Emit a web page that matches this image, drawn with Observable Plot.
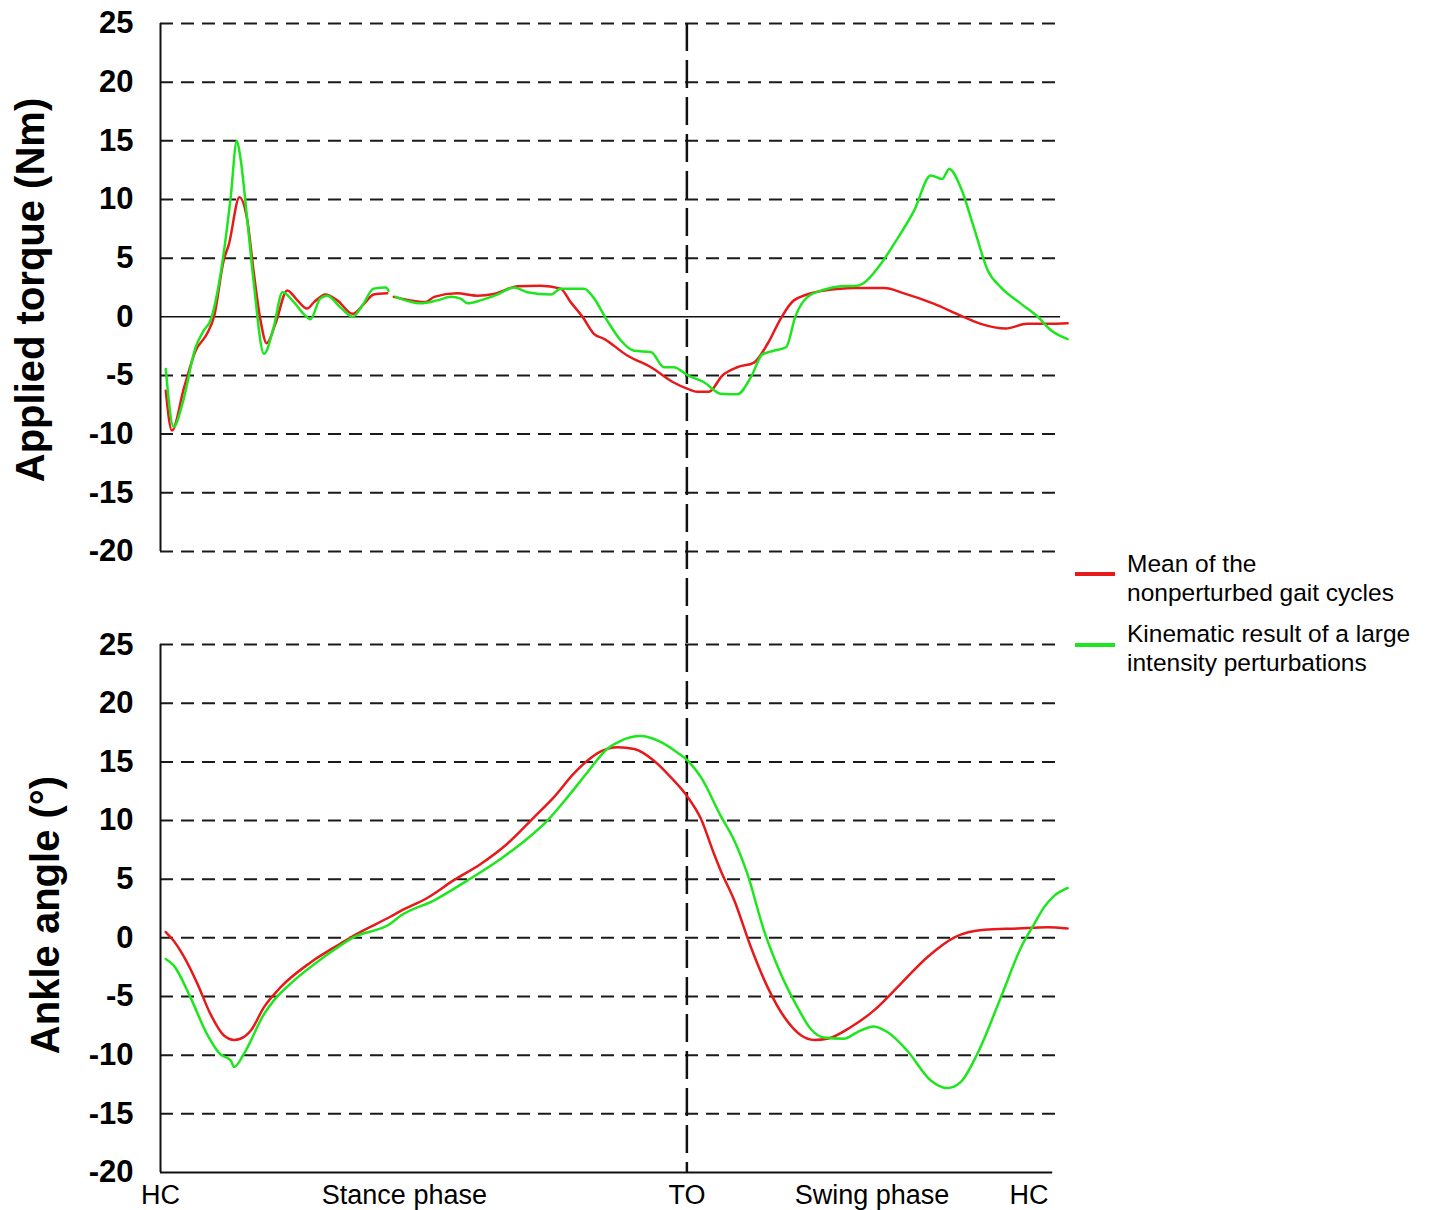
<!DOCTYPE html>
<html>
<head>
<meta charset="utf-8">
<script src="https://cdn.jsdelivr.net/npm/d3@7"></script>
<script src="https://cdn.jsdelivr.net/npm/@observablehq/plot@0.6"></script>
<style>
  body { margin: 0; background: #fff; }
  #chart { position: relative; width: 1429px; height: 1210px; font-family: "Liberation Sans", Arial, sans-serif; color: #000; }
  #chart svg { position: absolute; left: 0; top: 0; }
  g[aria-label="y-axis tick label"] { font-weight: bold; }
  .ytitle { position: absolute; font-size: 40px; font-weight: bold; white-space: nowrap; transform: translate(-50%, -50%) rotate(-90deg); line-height: 1; }
  .legend { position: absolute; left: 1075px; font-size: 24.5px; line-height: 29px; }
  .entry { position: absolute; left: 0; display: flex; align-items: flex-start; white-space: nowrap; }
  .swatch { width: 40px; height: 4px; margin-right: 12px; flex: none; }
</style>
</head>
<body>
<div id="chart"></div>
<script>
// Panels, series and axis labels
const panels = ["torque", "angle"];
const panelTitles = ["Applied torque (Nm)", "Ankle angle (°)"];
const seriesNames = ["Mean of the nonperturbed gait cycles", "Kinematic result of a large intensity perturbations"];
const legendLines = [["Mean of the", "nonperturbed gait cycles"], ["Kinematic result of a large", "intensity perturbations"]];
const seriesColors = ["#e8191b", "#1ee61e"];
const yTicks = [25, 20, 15, 10, 5, 0, -5, -10, -15, -20];
// Gait-cycle events along x (percent of the cycle)
const phaseTicks = [0, 27.8, 60, 81.1, 99];
const phaseLabels = ["HC", "Stance phase", "TO", "Swing phase", "HC"];
const toeOff = 60;

// Applied torque (Nm) vs % gait cycle; null marks a recording gap
const torqueMean = [
  [0.6, -6.3], [1.3, -9.7], [2.7, -6.0], [4.0, -2.9], [5.3, -1.45], [6.1, 0], [7.2, 4.8], [7.8, 6.2],
  [9.0, 10.2], [9.9, 8.2], [10.6, 3.95], [11.4, -0.3], [12.1, -2.25], [13.1, -0.6], [14.45, 2.25],
  [15.6, 1.4], [16.7, 0.7], [17.5, 1.25], [18.8, 1.9], [20.15, 1.4], [21.9, 0.25], [23.2, 1.1],
  [24.3, 1.9], [25.85, 2.0], [26.3, null], [26.6, 1.7], [28.9, 1.35], [30.2, 1.25], [31.2, 1.7],
  [33.8, 2.0], [36.1, 1.8], [38.0, 1.95], [40.7, 2.6], [43.3, 2.65], [45.6, 2.4], [46.75, 1.25],
  [48.1, 0], [49.4, -1.45], [50.6, -1.9], [53.2, -3.3], [55.9, -4.3], [58.5, -5.6], [60.1, -6.15],
  [61.2, -6.4], [62.5, -6.4], [64.05, -5.0], [65.75, -4.3], [67.65, -3.9], [69.2, -2.3], [70.7, -0.15],
  [72.2, 1.4], [75.3, 2.2], [77.5, 2.4], [79.05, 2.45], [82.5, 2.45], [84.75, 2.0], [88.2, 1.1],
  [91.2, 0.1], [93.5, -0.6], [96.35, -1.0], [98.8, -0.6], [101.1, -0.6], [103.4, -0.55]
];
const torquePerturbed = [
  [0.6, -4.45], [1.5, -9.4], [2.5, -7.4], [4.0, -2.6], [4.9, -1.2], [5.7, -0.3], [7.2, 5.4], [8.0, 10.2],
  [8.7, 15.0], [9.1, 13.6], [9.9, 8.2], [10.6, 3.1], [11.8, -3.15], [12.9, -0.9], [13.9, 2.1],
  [15.2, 1.25], [16.3, 0.25], [17.1, -0.2], [18.2, 1.55], [19.0, 1.8], [20.5, 0.8], [21.9, 0],
  [23.0, 0.95], [24.3, 2.4], [25.7, 2.5], [26.0, 2.2], [26.3, null], [26.8, 1.7], [29.65, 1.15],
  [31.55, 1.4], [33.1, 1.7], [34.2, 1.55], [35.0, 1.15], [36.5, 1.4], [38.4, 1.9], [40.3, 2.5],
  [41.8, 2.1], [44.5, 1.9], [45.6, 2.4], [48.3, 2.4], [49.3, 1.7], [50.9, -0.3], [52.45, -2.0],
  [54.0, -2.9], [55.9, -3.0], [57.4, -4.3], [58.5, -4.3], [60.1, -5.0], [62.0, -5.6], [63.85, -6.55],
  [65.75, -6.6], [67.3, -5.15], [68.6, -3.2], [69.9, -2.9], [71.3, -2.6], [72.4, 0.1], [73.7, 1.65],
  [75.6, 2.3], [77.5, 2.6], [79.4, 2.65], [82.1, 4.5], [83.6, 6.2], [85.9, 9.05], [87.8, 12.05],
  [89.1, 11.75], [89.9, 12.6], [91.2, 11.05], [92.7, 7.65], [94.3, 3.95], [95.8, 2.5], [98.1, 1.1],
  [100.0, 0], [101.5, -1.15], [103.4, -1.9]
];
// Ankle angle (degrees) vs % gait cycle
const angleMean = [
  [0.6, 0.5], [1.5, -0.25], [2.7, -1.65], [4.2, -3.9], [5.7, -6.5], [7.2, -8.3], [8.4, -8.7],
  [9.1, -8.6], [10.3, -7.9], [11.8, -5.9], [13.7, -4.2], [17.1, -2.1], [20.5, -0.5], [22.4, 0.35],
  [26.2, 1.8], [27.4, 2.3], [30.4, 3.4], [33.4, 4.9], [36.5, 6.3], [39.5, 8.0], [42.6, 10.3],
  [44.85, 12.0], [47.1, 14.0], [48.65, 15.1], [50.2, 15.9], [52.1, 16.25], [54.0, 16.1], [56.25, 15.1],
  [58.15, 13.7], [60.1, 12.0], [61.6, 10.15], [63.1, 7.15], [63.85, 5.75], [65.4, 3.2], [67.3, -0.8],
  [69.2, -4.2], [71.1, -6.75], [73.0, -8.3], [74.5, -8.7], [76.0, -8.6], [78.7, -7.6], [81.3, -6.2],
  [84.4, -3.9], [87.4, -1.65], [90.5, 0.05], [93.9, 0.7], [97.7, 0.8], [101.1, 0.9], [103.4, 0.8]
];
const anglePerturbed = [
  [0.6, -1.8], [1.5, -2.35], [3.4, -5.05], [5.3, -8.2], [6.8, -9.9], [8.0, -10.45], [8.4, -11.0],
  [9.5, -9.9], [11.8, -6.5], [12.9, -5.35], [15.2, -3.65], [18.6, -1.65], [22.0, 0.05], [26.2, 1.2],
  [27.4, 1.9], [31.2, 3.2], [35.0, 4.9], [38.8, 6.75], [41.8, 8.45], [44.1, 10.0], [46.4, 12.0],
  [48.65, 14.1], [50.9, 16.1], [52.45, 16.8], [54.7, 17.2], [57.0, 16.7], [58.9, 15.8], [60.1, 15.1],
  [61.6, 13.7], [63.85, 10.4], [65.4, 8.3], [66.9, 5.45], [68.8, 0.6], [70.7, -3.05], [72.6, -5.9],
  [74.1, -7.75], [75.6, -8.5], [77.9, -8.6], [79.4, -8.05], [81.3, -7.55], [82.9, -8.05], [85.1, -9.6],
  [87.8, -12.15], [89.7, -12.8], [91.2, -12.3], [93.1, -9.9], [95.8, -5.05], [98.1, -0.8], [99.6, 1.2],
  [100.7, 2.6], [101.9, 3.6], [103.4, 4.25]
];

// Flatten into one tidy table for faceting
const rows = [];
const addSeries = (panel, series, pts) => pts.forEach(([x, y]) => rows.push({panel, series, x, y}));
addSeries(panels[0], seriesNames[0], torqueMean);
addSeries(panels[0], seriesNames[1], torquePerturbed);
addSeries(panels[1], seriesNames[0], angleMean);
addSeries(panels[1], seriesNames[1], anglePerturbed);

// Dashed grid: zero is solid in the torque panel, -20 is the axis in the angle panel
const gridRows = [];
for (const y of yTicks) {
  if (y !== 0) gridRows.push({panel: panels[0], y});
  if (y !== -20) gridRows.push({panel: panels[1], y});
}
const gridEnd = 102.6;
const axisEnd = 101.7;

const chart = Plot.plot({
  width: 1429,
  height: 1210,
  marginLeft: 160,
  marginRight: 361,
  marginTop: 23,
  marginBottom: 38,
  style: {fontFamily: "'Liberation Sans', Arial, sans-serif", background: "transparent", color: "#000", overflow: "visible"},
  x: {domain: [0, 103.5], axis: null},
  y: {domain: [-20, 25], axis: null},
  fy: {domain: panels, axis: null, paddingInner: 0.15, paddingOuter: 0, round: false},
  color: {domain: seriesNames, range: seriesColors},
  marks: [
    Plot.ruleY(gridRows, {y: "y", fy: "panel", x1: 0, x2: gridEnd, stroke: "#1a1a1a", strokeWidth: 2, strokeDasharray: "13,8"}),
    Plot.ruleY([{panel: panels[0], y: 0}], {y: "y", fy: "panel", x1: 0, x2: gridEnd, stroke: "#111", strokeWidth: 1.5}),
    Plot.ruleY([{panel: panels[1], y: -20}], {y: "y", fy: "panel", x1: 0, x2: axisEnd, stroke: "#111", strokeWidth: 2}),
    Plot.ruleX([0], {y1: -20, y2: 25, stroke: "#111", strokeWidth: 2}),
    // Toe-off marker runs through both panels and the gap between them
    Plot.ruleX([{panel: panels[0], x: toeOff}], {x: "x", fy: "panel", y1: 25, y2: -20, insetBottom: -93, stroke: "#111", strokeWidth: 2.5, strokeDasharray: "28,9"}),
    Plot.ruleX([{panel: panels[1], x: toeOff}], {x: "x", fy: "panel", y1: 25, y2: -20, stroke: "#111", strokeWidth: 2.5, strokeDasharray: "28,9"}),
    Plot.line(rows, {x: "x", y: "y", z: "series", stroke: "series", fy: "panel", strokeWidth: 2.5, curve: "monotone-x"}),
    Plot.axisY({ticks: yTicks, tickFormat: (d) => String(d), tickSize: 0, tickPadding: 27, fontSize: 31, label: null}),
    Plot.axisX({ticks: phaseTicks, tickFormat: (d) => phaseLabels[phaseTicks.indexOf(d)], tickSize: 0, tickPadding: 12, fontSize: 27, label: null})
  ]
});

const root = document.getElementById("chart");
root.appendChild(chart);

// Rotated y-axis titles, one per panel
const titleCenters = [[30, 290], [45, 915]];
panelTitles.forEach((t, i) => {
  const el = document.createElement("div");
  el.className = "ytitle";
  el.textContent = t;
  el.style.left = titleCenters[i][0] + "px";
  el.style.top = titleCenters[i][1] + "px";
  root.appendChild(el);
});

// Legend to the right of the panels
const legend = document.createElement("div");
legend.className = "legend";
legend.style.top = "549px";
const entryTops = [0, 70];
seriesNames.forEach((name, i) => {
  const entry = document.createElement("div");
  entry.className = "entry";
  entry.style.top = entryTops[i] + "px";
  const sw = document.createElement("div");
  sw.className = "swatch";
  sw.style.background = seriesColors[i];
  sw.style.marginTop = (i === 0 ? 23 : 24) + "px";
  const label = document.createElement("div");
  label.innerHTML = legendLines[i].join("<br>");
  entry.appendChild(sw);
  entry.appendChild(label);
  legend.appendChild(entry);
});
root.appendChild(legend);
</script>
</body>
</html>
